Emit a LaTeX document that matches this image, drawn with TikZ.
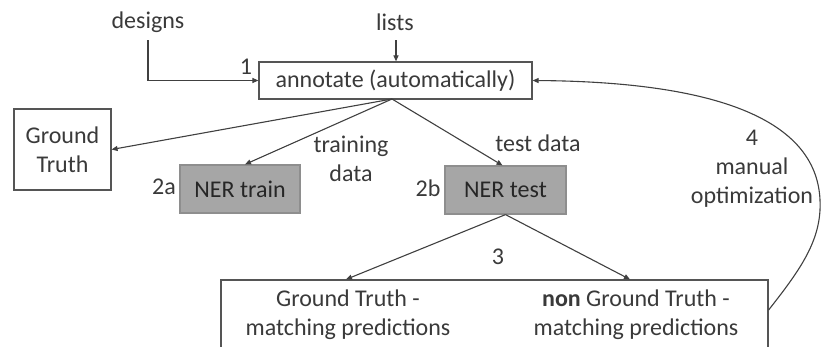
\documentclass[tikz,border=0pt]{standalone}
\usepackage{fontspec}
\setmainfont{Carlito}
\usetikzlibrary{arrows.meta}

\definecolor{inkgray}{HTML}{3A3A3A}
\definecolor{linegray}{HTML}{404040}
\definecolor{boxline}{HTML}{555555}
\definecolor{nerfill}{HTML}{A6A6A6}
\definecolor{nerline}{HTML}{8E8E8E}

\tikzset{
  lbl/.style={font=\fontsize{24}{29}\selectfont, text=inkgray, inner sep=0pt, align=center},
  plainbox/.style={lbl, draw=boxline, line width=1.2pt, fill=white},
  nerbox/.style={lbl, text=black!85, draw=nerline, line width=1.2pt, fill=nerfill,
                 minimum width=120pt, minimum height=48pt},
  flow/.style={draw=linegray, line width=1.1pt, -{Triangle[length=6pt,width=5pt]}}
}

\begin{document}
\begin{tikzpicture}[x=1pt, y=-1pt]
  \useasboundingbox (0,0) rectangle (827,346);
  \clip (0,0) rectangle (827,346);

  % inputs
  \node[lbl] (designs) at (148,22) {designs};
  \node[lbl] (lists) at (395,22) {lists};

  % step 1
  \node[plainbox, minimum width=273pt, minimum height=37pt] (annot) at (395.5,80.5)
    {annotate (automatically)};
  \node[lbl] (n1) at (246,67) {1};

  % outputs of step 1
  \node[plainbox, minimum width=97pt, minimum height=81pt] (gt) at (62.5,149.5)
    {Ground\\Truth};
  \node[nerbox] (ntrain) at (240,189) {NER train};
  \node[nerbox, minimum width=121pt] (ntest) at (505.5,190) {NER test};
  \node[lbl] (n2a) at (164,187) {2a};
  \node[lbl] (n2b) at (428,188) {2b};
  \node[lbl] (trainlbl) at (351,159) {training\\data};
  \node[lbl] (testlbl) at (538,143) {test data};

  % step 3 results
  \node[plainbox, minimum width=547pt, minimum height=90pt] (preds) at (494.5,325) {};
  \node[lbl] (gtl) at (348,315) {Ground Truth -\\matching predictions};
  \node[lbl] (gtr) at (636,315) {\textbf{non} Ground Truth -\\matching predictions};
  \node[lbl] (n3) at (498,257) {3};

  % step 4
  \node[lbl] (n4) at (752,168.5) {4\\manual\\optimization};

  % connectors
  \coordinate (src) at (392,99);
  \coordinate (dtop) at (148,40);
  \coordinate (ltop) at (396,40);
  \draw[flow] (dtop) |- (annot.west);
  \draw[flow] (ltop) -- (ltop |- annot.north);
  \draw[flow] (src) -- (gt.east);
  \draw[flow] (src) -- ([xshift=5pt]ntrain.north);
  \draw[flow] (src) -- ([xshift=-3pt]ntest.north);
  \draw[flow] (ntest.south) -- ([xshift=-2pt]gtl.center |- preds.north);
  \draw[flow] (ntest.south) -- ([xshift=-6pt]gtr.center |- preds.north);
  \draw[flow] ([yshift=15pt]preds.east)
    .. controls (800,270) and (822,240) .. (820,200)
    .. controls (817,130) and (740,82) .. (annot.east);
\end{tikzpicture}
\end{document}
